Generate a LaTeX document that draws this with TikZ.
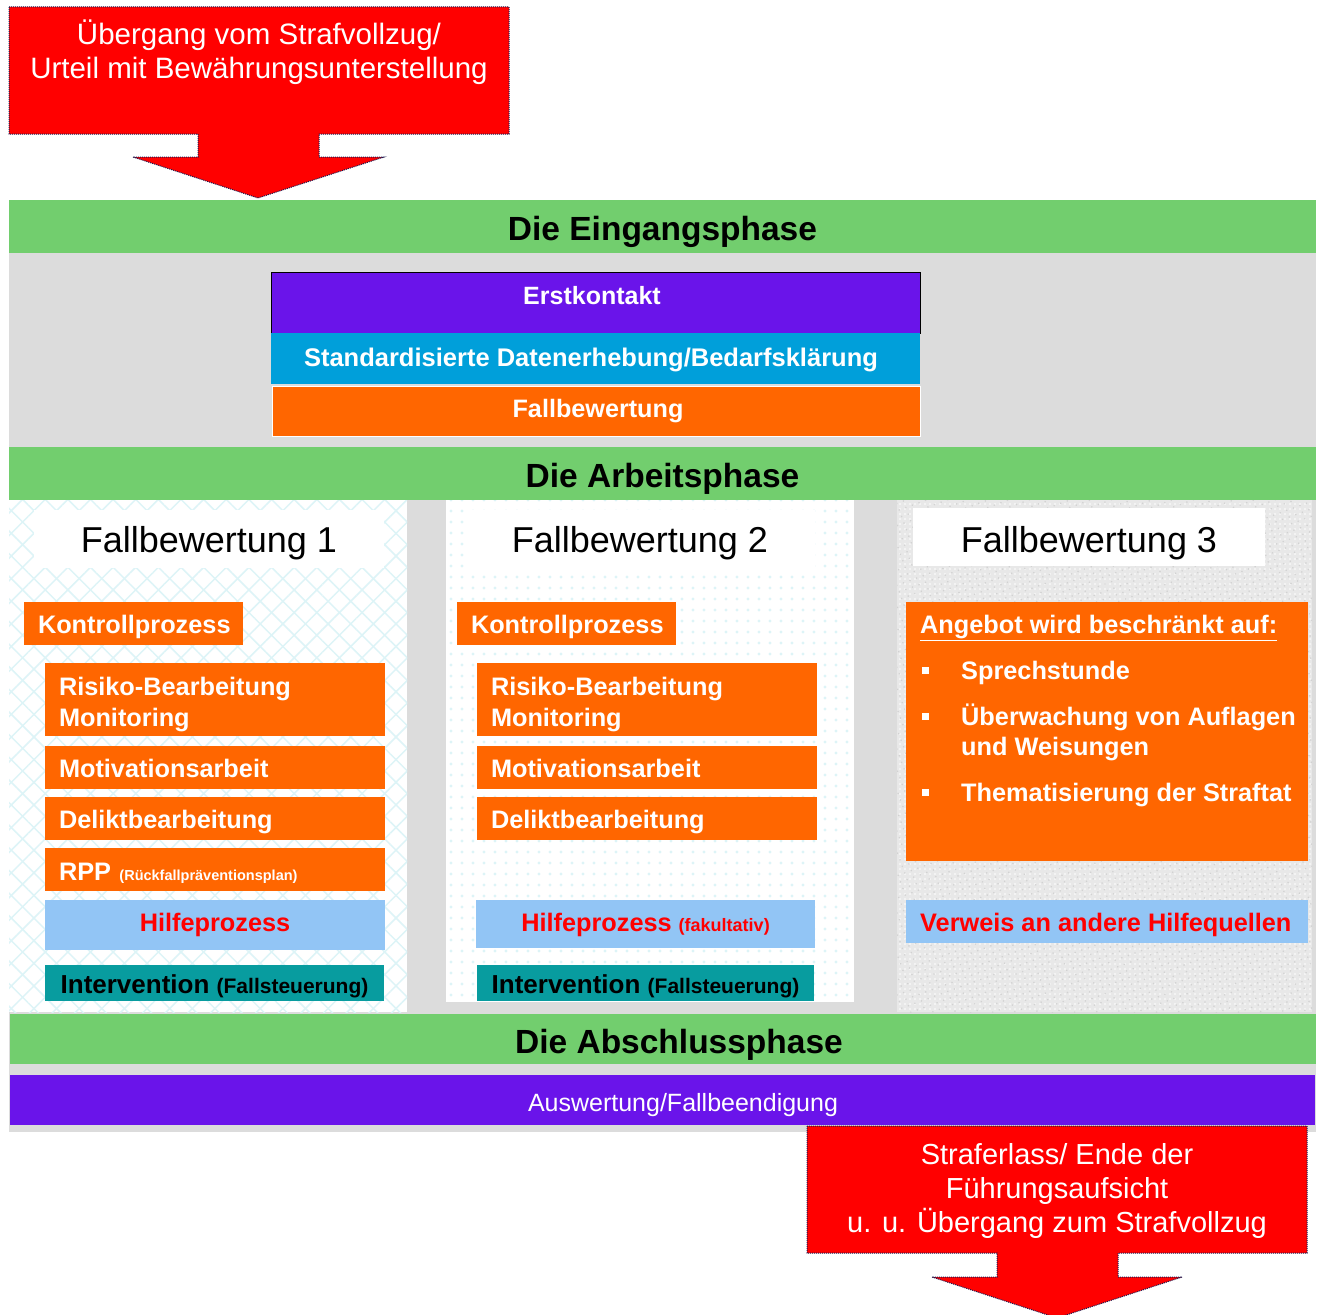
\documentclass[tikz,border=0pt]{standalone}
\usepackage{fontspec}
\setmainfont{Liberation Sans}
\usetikzlibrary{patterns.meta}
\definecolor{grn}{HTML}{72CE6E}
\definecolor{gry}{HTML}{DCDCDC}
\definecolor{purp}{HTML}{6A14EA}
\definecolor{blu}{HTML}{009FDA}
\definecolor{org}{HTML}{FF6600}
\definecolor{lblu}{HTML}{92C5F5}
\definecolor{tealb}{HTML}{089C9F}
\definecolor{redx}{HTML}{FF0000}
\definecolor{navyx}{HTML}{1A1A50}
\definecolor{cyx}{HTML}{DDF4F7}
\newcommand{\myfs}[2]{\fontsize{#1}{#2}\selectfont}
\tikzset{
  box/.style={anchor=north west, inner sep=0pt, outer sep=0pt},
  phase/.style={box, fill=grn, minimum width=1307pt, minimum height=53pt, font=\bfseries\myfs{33.5}{36}, text height=28pt, text depth=0pt},
  lbox/.style={box, fill=org, text=white, align=left, inner xsep=14pt, font=\bfseries\myfs{25.3}{31}, text height=19pt, text depth=0pt},
  wtxt/.style={anchor=base west, inner sep=0pt, text=white, font=\bfseries\myfs{25.3}{30}},
  arrowbox/.style={fill=redx, draw=navyx, dash pattern=on 1pt off 1pt, line width=1pt},
  arrtxt/.style={text=white, align=center, font=\myfs{29.5}{34}, inner sep=0pt},
  coltitle/.style={box, fill=white, font=\myfs{36}{40}, text height=26pt, text depth=0pt},
}
\begin{document}
\begin{tikzpicture}[x=1pt,y=-1pt]
\useasboundingbox (0,0) rectangle (1324,1314);
\fill[white] (0,0) rectangle (1324,1314);
% gray body
\fill[gry] (9,253) rectangle (1316,1132);
% column backgrounds
\fill[white] (9,500) rectangle (407,1012);
\fill[pattern={Lines[angle=45,distance=16pt,line width=1.5pt]}, pattern color=cyx] (9,500) rectangle (407,1012);
\fill[pattern={Lines[angle=-45,distance=16pt,line width=1.5pt]}, pattern color=cyx] (9,500) rectangle (407,1012);
\fill[white] (446,500) rectangle (854,1002);
\fill[pattern={Dots[distance=11pt,radius=1.6pt]}, pattern color=cyx] (446,500) rectangle (854,1002);
\fill[gray!18] (897,500) rectangle (1312,1012);
\fill[pattern={Dots[distance=5pt,radius=1.2pt]}, pattern color=gray!6] (897,500) rectangle (1312,1012);
\fill[pattern={Dots[distance=7pt,radius=0.9pt,angle=20]}, pattern color=gray!35] (897,500) rectangle (1312,1012);

% top arrow
\draw[arrowbox] (9,7) -- (509,7) -- (509,134) -- (319,134) -- (319,157) -- (384,157) -- (258,198) -- (133,157) -- (198,157) -- (198,134) -- (9,134) -- cycle;
\node[arrtxt, anchor=base] (toptxt) at (259,78) {Übergang vom Strafvollzug/\\Urteil mit Bewährungsunterstellung};

% phase headers
\node[phase] (ph1) at (9,200) {Die Eingangsphase};
\node[phase, text height=27pt] (ph2) at (9,447) {Die Arbeitsphase};
\node[phase, minimum width=1306pt, minimum height=50pt] (ph3) at (10,1014) {\hspace*{32pt}Die Abschlussphase};

% Eingangsphase boxes
\node[box, fill=purp, draw=black, line width=1pt, minimum width=649pt, minimum height=61pt] (erst) at (271,272) {};
\node[anchor=base, text=white, font=\bfseries\myfs{25}{28}, inner sep=0pt] (ersttxt) at (592,304) {Erstkontakt};
\node[box, fill=blu, minimum width=649pt, minimum height=51pt, text=white, font=\bfseries\myfs{25.5}{28}, text height=15pt, text depth=0pt] (daten) at (271,333) {Standardisierte Datenerhebung/Bedarfsklärung\hspace*{9pt}};
\node[box, fill=org, draw=white, line width=0.8pt, minimum width=648pt, minimum height=50pt, text=white, font=\bfseries\myfs{25.2}{28}, text height=12pt, text depth=0pt] (fallb) at (272,386) {\hspace*{4pt}Fallbewertung};

% column titles
\node[coltitle, minimum width=350pt, minimum height=58pt] (t1) at (34,510) {Fallbewertung 1};
\node[coltitle, minimum width=350pt, minimum height=58pt] (t2) at (465,510) {Fallbewertung 2};
\node[coltitle, minimum width=352pt, minimum height=58pt, text height=30pt] (t3) at (913,508) {Fallbewertung 3};

% column 1
\node[lbox, text width=191pt, minimum height=43pt] (k1) at (24,602) {Kontrollprozess};
\node[lbox, text width=312pt, minimum height=73pt, text height=22pt, text depth=31pt] (r1) at (45,663) {Risiko-Bearbeitung\\Monitoring};
\node[lbox, text width=312pt, minimum height=43pt] (m1) at (45,746) {Motivationsarbeit};
\node[lbox, text width=312pt, minimum height=43pt] (d1) at (45,797) {Deliktbearbeitung};
\node[lbox, text width=312pt, minimum height=43pt, text height=21pt] (p1) at (45,848) {RPP{\myfs{14.5}{16} (Rückfallpräventionsplan)}};
\node[box, fill=lblu, minimum width=340pt, minimum height=50pt, text=redx, font=\bfseries\myfs{25.3}{30}, text height=12pt, text depth=0pt] (h1) at (45,900) {Hilfeprozess};
\node[box, fill=tealb, minimum width=339pt, minimum height=36pt, text=black, font=\bfseries\myfs{26}{28}, text height=20.6pt, text depth=0pt] (i1) at (45,965) {Intervention {\myfs{21}{24}(Fallsteuerung)}};

% column 2
\node[lbox, text width=191pt, minimum height=43pt] (k2) at (457,602) {Kontrollprozess};
\node[lbox, text width=312pt, minimum height=73pt, text height=22pt, text depth=31pt] (r2) at (477,663) {Risiko-Bearbeitung\\Monitoring};
\node[lbox, text width=312pt, minimum height=43pt] (m2) at (477,746) {Motivationsarbeit};
\node[lbox, text width=312pt, minimum height=43pt] (d2) at (477,797) {Deliktbearbeitung};
\node[box, fill=lblu, minimum width=339pt, minimum height=48pt, text=redx, font=\bfseries\myfs{25.3}{30}, text height=14pt, text depth=0pt] (h2) at (476,900) {Hilfeprozess {\myfs{18}{20}(fakultativ)}};
\node[box, fill=tealb, minimum width=337pt, minimum height=36pt, text=black, font=\bfseries\myfs{26}{28}, text height=20.6pt, text depth=0pt] (i2) at (477,965) {Intervention {\myfs{21}{24}(Fallsteuerung)}};

% column 3
\node[box, fill=org, minimum width=402pt, minimum height=259pt] (ang) at (906,602) {};
\node[wtxt] (angt) at (920,633) {\underline{Angebot wird beschränkt auf:}};
\node[wtxt] (b1) at (922,674) {\rule{7pt}{7pt}};
\node[wtxt] (s1) at (961,679) {Sprechstunde};
\node[wtxt] (b2) at (922,720) {\rule{7pt}{7pt}};
\node[wtxt, align=left] (s2) at (961,755) {Überwachung von Auflagen\\und Weisungen};
\node[wtxt] (b3) at (922,796) {\rule{7pt}{7pt}};
\node[wtxt] (s3) at (961,801) {Thematisierung der Straftat};
\node[box, fill=lblu, minimum width=402pt, minimum height=43pt] (verw) at (906,900) {};
\node[wtxt, text=redx] (verw-t) at (920,931) {Verweis an andere Hilfequellen};

% Abschluss
\node[box, fill=purp, minimum width=1305pt, minimum height=50pt] (ausw) at (10,1075) {};
\node[anchor=base, inner sep=0pt, text=white, font=\myfs{25}{30}] (ausw-t) at (683,1111) {Auswertung/Fallbeendigung};

% bottom arrow
\draw[arrowbox] (807,1126) -- (1307,1126) -- (1307,1253) -- (1118,1253) -- (1118,1277) -- (1182,1277) -- (1057,1318) -- (932,1277) -- (997,1277) -- (997,1253) -- (807,1253) -- cycle;
\node[arrtxt, anchor=base, font=\myfs{29}{34}] (bottxt) at (1057,1232) {Straferlass/ Ende der\\Führungsaufsicht\\u. u. Übergang zum Strafvollzug};
\end{tikzpicture}
\end{document}
